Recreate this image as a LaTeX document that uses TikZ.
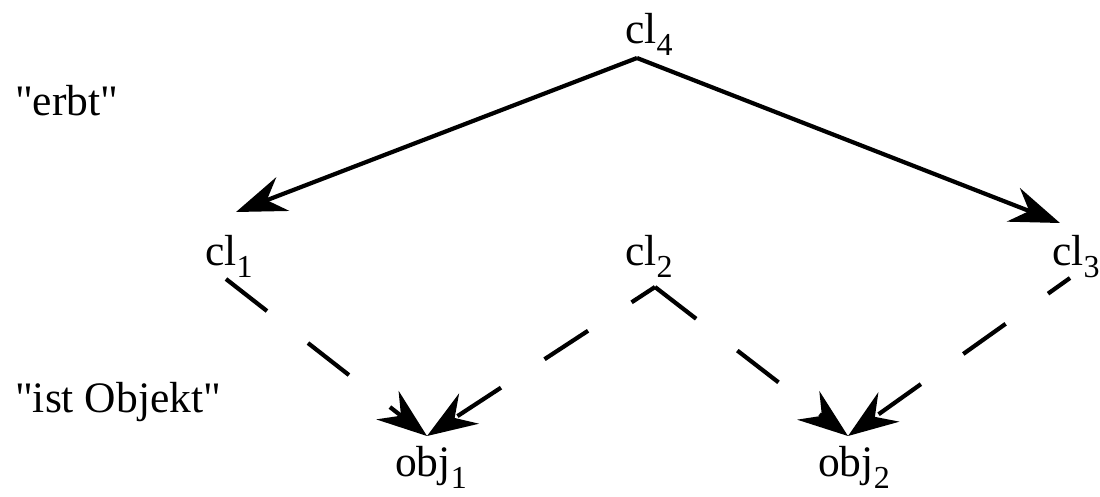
\documentclass[tikz,border=0pt]{standalone}
\usepackage{fontspec}
\newfontfamily\rmlib{Liberation Serif}
\usetikzlibrary{arrows.meta}
\newcommand{\mysub}[1]{\raisebox{-12pt}{\fontsize{32}{32}\selectfont #1}}
\begin{document}
\begin{tikzpicture}[x=1pt,y=-1pt,
  lbl/.style={anchor=base west,inner sep=0pt,font=\rmlib\fontsize{43.5}{43.5}\selectfont},
  inh/.style={line width=4.2pt,-{Stealth[length=50pt,width=36pt,inset=17pt]}},
  inst/.style={inh,dash pattern=on 52pt off 52pt}]
\useasboundingbox (0,0) rectangle (1100,496);
% labels
\node[lbl] (erbt) at (15,115) {"erbt"};
\node[lbl] (ist) at (15,412) {"ist Objekt"};
% class and object nodes
\node[lbl] (cl4) at (625,43) {cl\mysub{4}};
\node[lbl] (cl1) at (205,265) {cl\mysub{1}};
\node[lbl] (cl2) at (625,265) {cl\mysub{2}};
\node[lbl] (cl3) at (1052,265) {cl\mysub{3}};
\node[lbl] (obj1) at (395,476) {obj\mysub{1}};
\node[lbl] (obj2) at (818,476) {obj\mysub{2}};
% attachment points
\coordinate (cl4b) at (637,58);
\coordinate (cl1t) at (236,212);
\coordinate (cl3t) at (1060,223);
\coordinate (cl1b) at (226,279);
\coordinate (cl2b) at (655,287);
\coordinate (cl3b) at (1070,278);
\coordinate (obj1t) at (427,436);
\coordinate (obj2t) at (848,436);
% inheritance
\draw[inh] (cl4b) -- (cl1t);
\draw[inh] (cl4b) -- (cl3t);
% instance-of
\draw[inst] (cl1b) -- (obj1t);
\draw[inst,dash phase=24pt] (cl2b) -- (obj1t);
\draw[inst] (cl2b) -- (obj2t);
\draw[inst,dash phase=25pt] (cl3b) -- (obj2t);
\end{tikzpicture}
\end{document}
